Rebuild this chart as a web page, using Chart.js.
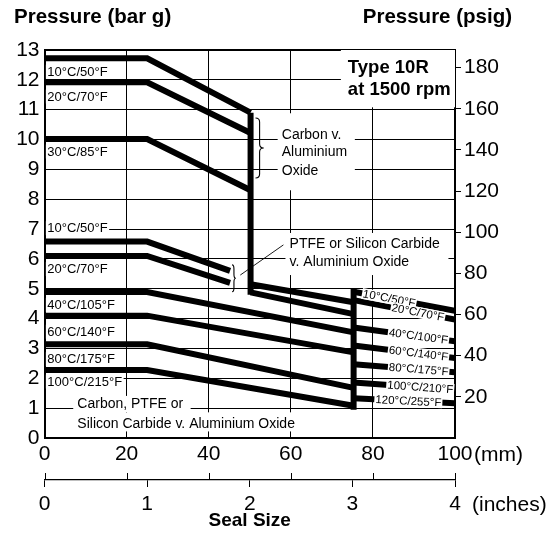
<!DOCTYPE html>
<html>
<head>
<meta charset="utf-8">
<script src="https://cdn.jsdelivr.net/npm/chart.js@4.4.1/dist/chart.umd.min.js"></script>
<style>
html, body { margin: 0; padding: 0; background: #fff; }
</style>
</head>
<body>
<canvas id="chart" width="554" height="535"></canvas>
<script>
const FONT = "'Liberation Sans', Arial, sans-serif"

// seal size (mm) and pressure (bar g)
const carbonX = [0, 25, 50.2]
const carbon10 = [12.72, 12.72, 10.9]
const carbon20 = [11.92, 11.92, 10.22]
const carbon30 = [10.02, 10.02, 8.3]
const carbonDropX = [50.2, 50.2]
const carbonDrop = [10.9, 4.8]

const ptfeX = [0, 25, 45.2]
const ptfe10 = [6.58, 6.58, 5.6]
const ptfe20 = [6.1, 6.1, 5.2]
const midX = [50.2, 75.3]
const mid10 = [5.15, 4.55]
const mid20 = [4.88, 4.15]

const lowX = [0, 25, 75.3]
const low40 = [4.89, 4.89, 3.54]
const low60 = [4.1, 4.1, 2.87]
const low80 = [3.14, 3.14, 1.68]
const low100 = [2.28, 2.28, 1.08]
const stepX = [75.3, 75.3]
const stepDrop = [5.0, 0.95]

const endX = [75.3, 100]
const end10 = [4.9, 4.26]
const end20 = [4.62, 3.97]
const end40 = [3.7, 3.24]
const end60 = [3.1, 2.68]
const end80 = [2.47, 2.2]
const end100 = [1.86, 1.62]
const end120 = [1.33, 1.16]

const leftLabels = ['10°C/50°F', '20°C/70°F', '30°C/85°F', '10°C/50°F', '20°C/70°F', '40°C/105°F', '60°C/140°F', '80°C/175°F', '100°C/215°F']
const leftLabelY = [12.27, 11.44, 9.6, 7.03, 5.66, 4.46, 3.56, 2.64, 1.89]
const endLabels = ['10°C/50°F', '20°C/70°F', '40°C/100°F', '60°C/140°F', '80°C/175°F', '100°C/210°F', '120°C/255°F']
const endLabelStart = [77.6, 84.6, 83.9, 83.9, 83.9, 83.5, 80.6]

const mmTicks = [0, 20, 40, 60, 80, 100]
const BAR_TO_PSI = 14.5038

const pts = (xs, ys) => xs.map((x, i) => ({ x: x, y: ys[i] }))
const endSeries = [end10, end20, end40, end60, end80, end100, end120]

const series = [
    pts(carbonX, carbon10), pts(carbonX, carbon20), pts(carbonX, carbon30), pts(carbonDropX, carbonDrop),
    pts(ptfeX, ptfe10), pts(ptfeX, ptfe20), pts(midX, mid10), pts(midX, mid20),
    pts(lowX, low40), pts(lowX, low60), pts(lowX, low80), pts(lowX, low100), pts(stepX, stepDrop)
].concat(endSeries.map(s => pts(endX, s)))

const notes = [
    { lines: ['Type 10R', 'at 1500 rpm'], x: 73.9, y: [12.39, 11.66], font: 'bold 18.5px ' + FONT, box: [72.2, 13, 100, 11.08] },
    { lines: ['Carbon v.', 'Aluminium', 'Oxide'], x: 57.8, y: [10.15, 9.57, 8.93], font: '14px ' + FONT, box: [56.8, 10.88, 75.6, 8.3] },
    { lines: ['PTFE or Silicon Carbide', 'v. Aluminium Oxide'], x: 59.7, y: [6.5, 5.88], font: '14px ' + FONT, box: [58.7, 6.87, 98.4, 5.46] },
    { lines: ['Carbon, PTFE or'], x: 8, y: [1.14], font: '14px ' + FONT, box: [7, 1.41, 35.6, 0.87] },
    { lines: ['Silicon Carbide v. Aluminium Oxide'], x: 8, y: [0.48], font: '14px ' + FONT, box: [7, 0.86, 63.6, 0.22] }
]

const brace = (ctx, x0, x1, yTop, yBot) => {
    const xm = (x0 + x1) / 2, ym = (yTop + yBot) / 2, r = Math.min(4, (yBot - yTop) / 4)
    ctx.beginPath()
    ctx.moveTo(x0, yTop)
    ctx.quadraticCurveTo(xm, yTop, xm, yTop + r)
    ctx.lineTo(xm, ym - r)
    ctx.quadraticCurveTo(xm, ym, x1, ym)
    ctx.quadraticCurveTo(xm, ym, xm, ym + r)
    ctx.lineTo(xm, yBot - r)
    ctx.quadraticCurveTo(xm, yBot, x0, yBot)
    ctx.stroke()
}

const extras = {
    id: 'extras',
    beforeDatasetsDraw(chart) {
        const ctx = chart.ctx
        const X = v => chart.scales.x.getPixelForValue(v)
        const Y = v => chart.scales.y.getPixelForValue(v)
        ctx.save()
        ctx.textBaseline = 'middle'
        ctx.textAlign = 'left'
        notes.forEach(n => {
            ctx.fillStyle = '#fff'
            ctx.fillRect(X(n.box[0]), Y(n.box[1]), X(n.box[2]) - X(n.box[0]), Y(n.box[3]) - Y(n.box[1]))
            ctx.fillStyle = '#000'
            ctx.font = n.font
            n.lines.forEach((t, i) => ctx.fillText(t, X(n.x), Y(n.y[i])))
        })
        ctx.font = '13px ' + FONT
        leftLabels.forEach((t, i) => {
            const x = X(0.7), y = Y(leftLabelY[i])
            const w = ctx.measureText(t).width
            ctx.fillStyle = '#fff'
            ctx.fillRect(x - 1.5, y - 7, w + 3, 14)
            ctx.fillStyle = '#000'
            ctx.fillText(t, x, y + 0.5)
        })
        ctx.strokeStyle = '#000'
        ctx.lineWidth = 1.1
        brace(ctx, X(51.4), X(53.4), Y(10.72), Y(8.71))
        brace(ctx, X(45.7), X(46.6), Y(5.8), Y(4.9))
        ctx.lineWidth = 0.9
        ctx.beginPath()
        ctx.moveTo(X(47.7), Y(5.46))
        ctx.lineTo(X(58.2), Y(6.47))
        ctx.stroke()
        ctx.restore()
    },
    afterDatasetsDraw(chart) {
        const ctx = chart.ctx
        const X = v => chart.scales.x.getPixelForValue(v)
        const Y = v => chart.scales.y.getPixelForValue(v)
        ctx.save()
        ctx.font = '11.5px ' + FONT
        ctx.textBaseline = 'middle'
        ctx.textAlign = 'left'
        endLabels.forEach((t, i) => {
            const s = endSeries[i]
            const slope = (s[1] - s[0]) / (endX[1] - endX[0])
            const xv = endLabelStart[i]
            const yv = s[0] + slope * (xv - endX[0])
            const ang = Math.atan2(Y(s[1]) - Y(s[0]), X(endX[1]) - X(endX[0]))
            const w = ctx.measureText(t).width
            ctx.save()
            ctx.translate(X(xv), Y(yv))
            ctx.rotate(ang)
            ctx.fillStyle = '#fff'
            ctx.fillRect(-1, -5.5, w + 2, 11)
            ctx.fillStyle = '#000'
            ctx.fillText(t, 0, 0.5)
            ctx.restore()
        })
        ctx.restore()
    },
    afterDraw(chart) {
        const ctx = chart.ctx
        const X = v => chart.scales.x.getPixelForValue(v)
        const x2 = chart.scales.x2
        ctx.save()
        ctx.fillStyle = '#000'
        ctx.textBaseline = 'middle'
        ctx.font = 'bold 20.5px ' + FONT
        ctx.textAlign = 'left'
        ctx.fillText('Pressure (bar g)', 14, 17)
        ctx.textAlign = 'right'
        ctx.fillText('Pressure (psig)', 512, 17)
        ctx.font = '21px ' + FONT
        ctx.textAlign = 'left'
        ctx.fillText('(mm)', 474, 455)
        ctx.fillText('(inches)', 472, 505)
        ctx.strokeStyle = '#000'
        ctx.lineWidth = 1
        mmTicks.forEach(v => {
            const x = Math.round(X(v)) + 0.5
            ctx.beginPath()
            ctx.moveTo(x, x2.top)
            ctx.lineTo(x, x2.top - 7)
            ctx.stroke()
        })
        ctx.restore()
    }
}

new Chart(document.getElementById('chart'), {
    type: 'scatter',
    data: {
        datasets: series.map(d => ({
            data: d,
            showLine: true,
            borderColor: '#000',
            backgroundColor: '#000',
            borderWidth: 6,
            borderCapStyle: 'butt',
            borderJoinStyle: 'miter',
            pointRadius: 0,
            tension: 0
        }))
    },
    options: {
        responsive: false,
        animation: false,
        layout: { padding: { top: 50, left: 0, right: 0, bottom: 0 } },
        plugins: { legend: { display: false }, tooltip: { enabled: false } },
        scales: {
            x: {
                type: 'linear', position: 'bottom', min: 0, max: 100,
                ticks: { stepSize: 20, color: '#000', font: { size: 21, family: FONT }, padding: 4, maxRotation: 0 },
                grid: { color: '#000', lineWidth: 1, drawTicks: false },
                border: { color: '#000', width: 2 },
                afterFit: s => { s.height = 42 }
            },
            x2: {
                type: 'linear', position: 'bottom', min: 0, max: 4,
                ticks: { stepSize: 1, color: '#000', font: { size: 21, family: FONT }, padding: 5, maxRotation: 0 },
                grid: { drawOnChartArea: false, drawTicks: true, tickLength: 7, color: '#000', lineWidth: 1 },
                border: { color: '#000', width: 1.3 },
                title: { display: true, text: 'Seal Size', color: '#000', font: { size: 19, weight: 'bold', family: FONT }, padding: { top: 0, bottom: 3 } },
                afterFit: s => { s.height = 55 }
            },
            y: {
                min: 0, max: 13,
                ticks: { stepSize: 1, color: '#000', font: { size: 21, family: FONT }, padding: 5 },
                grid: { color: '#000', lineWidth: c => (c.tick && c.tick.value === 13 ? 2 : 1), drawTicks: false },
                border: { color: '#000', width: 2 },
                afterFit: s => { s.width = 44.5 }
            },
            y2: {
                position: 'right', min: 0, max: 13 * BAR_TO_PSI,
                ticks: { stepSize: 20, includeBounds: false, color: '#000', font: { size: 21, family: FONT }, padding: 3, callback: v => (v === 0 ? '' : v) },
                grid: { drawOnChartArea: false, drawTicks: true, tickLength: 6, color: c => (c.tick && c.tick.value === 0 ? 'rgba(0,0,0,0)' : '#000') },
                border: { color: '#000', width: 2 },
                afterFit: s => { s.width = 99 }
            }
        }
    },
    plugins: [extras]
})
</script>
</body>
</html>
